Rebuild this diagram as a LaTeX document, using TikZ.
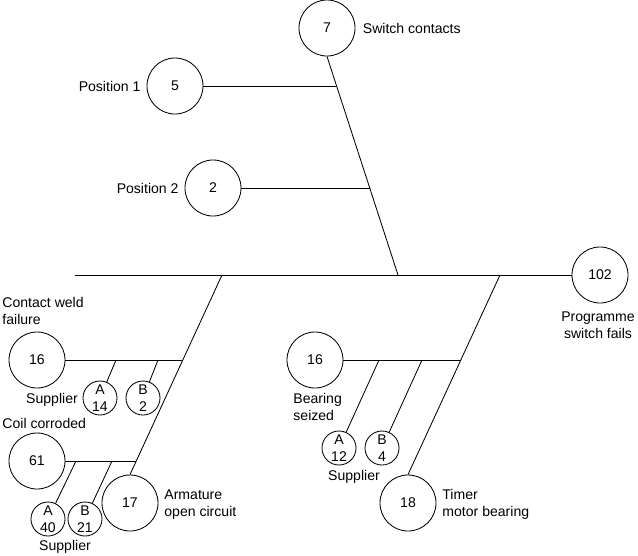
\documentclass[tikz,border=0pt]{standalone}
\usepackage{fontspec}
\setmainfont{Liberation Sans}
\usetikzlibrary{positioning}

\begin{document}
\begin{tikzpicture}[
  x=0.025cm, y=-0.025cm,
  font=\fontsize{10}{12}\selectfont,
  line width=0.6pt,
  causecirc/.style={circle, draw=black, line width=0.6pt, minimum size=1.4cm, inner sep=0pt},
  suppcirc/.style={circle, draw=black, line width=0.6pt, minimum size=0.85cm, inner sep=0pt, align=center},
  lbl/.style={inner sep=0pt, align=left},
]
\useasboundingbox (0,0) rectangle (638,555);

% ===== top event and spine =====
\node (c102) [causecirc] at (600,275) {102};
\node (lTop) [lbl, align=center] at (598,325) {Programme\\switch fails};
\coordinate (spineL) at (75,275);
\draw (spineL) -- (c102);

% ===== upper branch: switch contacts =====
\node (c7) [causecirc] at (327,28) {7};
\node (l7) [lbl, right=5pt of c7] {Switch contacts};
\coordinate (jUp) at (398,275);
\draw (c7.south) -- (jUp);

\node (c5) [causecirc] at (175,86) {5};
\node (l5) [lbl, left=4pt of c5] {Position 1};
\coordinate (jPos1) at (336.4,86);
\draw (c5) -- (jPos1);

\node (c2) [causecirc] at (213,188) {2};
\node (l2) [lbl, left=4pt of c2] {Position 2};
\coordinate (jPos2) at (369.7,188);
\draw (c2) -- (jPos2);

% ===== lower left branch: armature =====
\node (c17) [causecirc] at (130,503) {17};
\node (l17) [lbl, anchor=west] at (164,505) {Armature\\open circuit};
\coordinate (jLeft) at (222,275);
\draw (jLeft) -- (c17.north);

% contact weld failure
\node (c16w) [causecirc] at (37,360) {16};
\node (l16w) [lbl, anchor=west] at (2,311) {Contact weld\\failure};
\coordinate (jWeld) at (182.9,360);
\draw (c16w) -- (jWeld);
\node (sA14) [suppcirc] at (100,398) {A\\14};
\node (sB2) [suppcirc] at (143,398) {B\\2};
\coordinate (jWeldA) at (116,360);
\coordinate (jWeldB) at (158,360);
\draw (jWeldA) -- (sA14);
\draw (jWeldB) -- (sB2);
\node (lSup1) [lbl] at (52,400) {Supplier};

% coil corroded
\node (c61) [causecirc] at (37,461) {61};
\node (l61) [lbl, anchor=west] at (2,423) {Coil corroded};
\coordinate (jCoil) at (136.4,461);
\draw (c61) -- (jCoil);
\node (sA40) [suppcirc] at (48,519) {A\\40};
\node (sB21) [suppcirc] at (85,519) {B\\21};
\coordinate (jCoilA) at (76,461);
\coordinate (jCoilB) at (112,461);
\draw (jCoilA) -- (sA40);
\draw (jCoilB) -- (sB21);
\node (lSup2) [lbl] at (65,547) {Supplier};

% ===== lower right branch: timer motor bearing =====
\node (c18) [causecirc] at (408,503) {18};
\node (l18) [lbl, anchor=west] at (442,504) {Timer\\motor bearing};
\coordinate (jRight) at (500,275);
\draw (jRight) -- (c18.north);

\node (c16b) [causecirc] at (315,360) {16};
\node (l16b) [lbl, anchor=west] at (293,407) {Bearing\\seized};
\coordinate (jBear) at (460.9,360);
\draw (c16b) -- (jBear);
\node (sA12) [suppcirc] at (339,448) {A\\12};
\node (sB4) [suppcirc] at (382,448) {B\\4};
\coordinate (jBearA) at (379,360);
\coordinate (jBearB) at (422,360);
\draw (jBearA) -- (sA12);
\draw (jBearB) -- (sB4);
\node (lSup3) [lbl] at (354,477) {Supplier};
\end{tikzpicture}
\end{document}
